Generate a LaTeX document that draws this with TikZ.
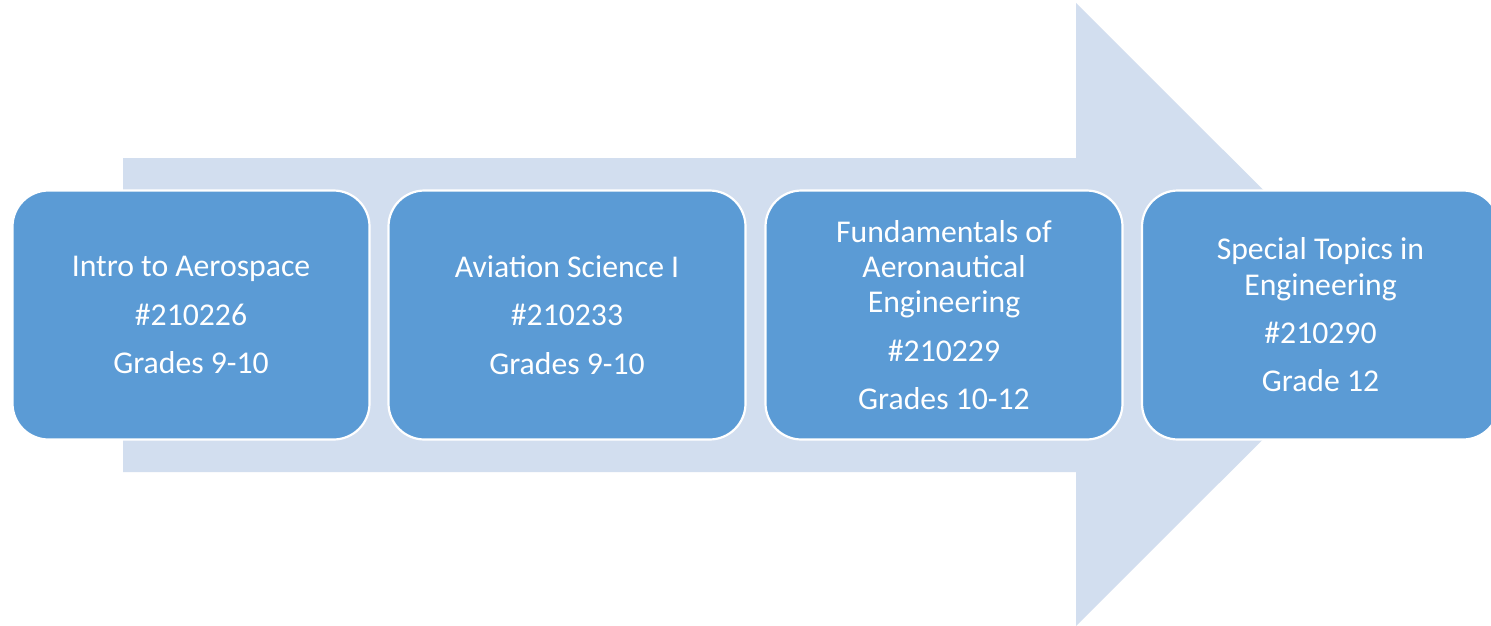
\documentclass[tikz,border=0pt]{standalone}
\usepackage{fontspec}
\setmainfont{Carlito}
\definecolor{arrowfill}{HTML}{D2DEEF}
\definecolor{boxfill}{HTML}{5B9BD5}
\begin{document}
\begin{tikzpicture}[x=1pt,y=-1pt,
  course/.style={draw=white, line width=2.2pt, fill=boxfill, rounded corners=36pt,
    minimum width=357pt, minimum height=249pt, inner sep=0pt, align=center,
    text=white, font=\fontsize{31.7}{35.3}\selectfont}]
\useasboundingbox (0,0) rectangle (1491,626);
\clip (0,0) rectangle (1491,626);
\fill[white] (0,0) rectangle (1491,626);
\fill[arrowfill] (123,158) -- (1076,158) -- (1076,3) -- (1388,314.5) -- (1076,626) -- (1076,472) -- (123,472) -- cycle;
\node[course] (c1) at (191,315) {Intro to Aerospace\\[13pt]\#210226\\[13pt]Grades 9-10};
\node[course] (c2) at (567,315) {Aviation Science I\\[13pt]\#210233\\[13pt]Grades 9-10};
\node[course] (c3) at (944,315) {Fundamentals of\\Aeronautical\\Engineering\\[13pt]\#210229\\[13pt]Grades 10-12};
\node[course] (c4) at (1320.5,315) {Special Topics in\\Engineering\\[13pt]\#210290\\[13pt]Grade 12};
\end{tikzpicture}
\end{document}
